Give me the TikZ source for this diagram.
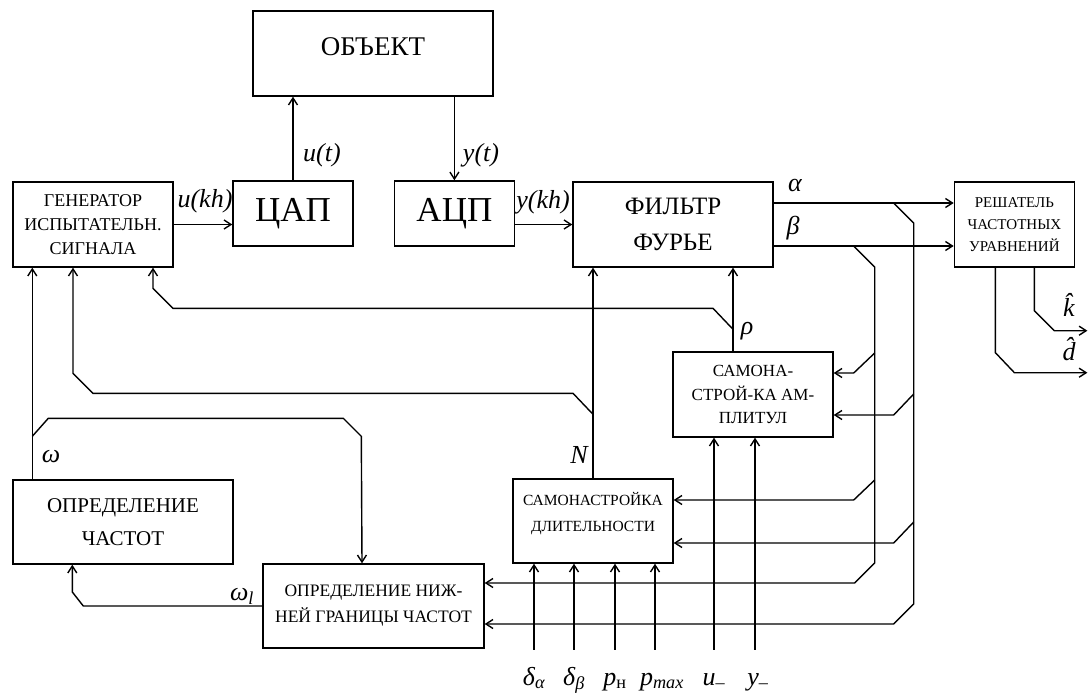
\documentclass[tikz,border=0pt]{standalone}
\usepackage{fontspec}
\setmainfont{Liberation Serif}
\usetikzlibrary{arrows.meta, positioning}

\newcommand{\vi}[1]{\textit{#1}}
\newcommand{\dropstrut}[1]{\rule[-#1]{0pt}{0pt}}

\begin{document}
\begin{tikzpicture}[
    x=1pt, y=-1pt,
    >={Straight Barb[length=7pt, width=9pt]},
    base/.style={draw=black, line width=1.4pt, align=center, inner sep=0pt},
    unit/.style={base, minimum width=160pt, minimum height=85pt},
    plant/.style={base, minimum width=240pt, minimum height=85pt, font={\fontsize{27}{30}\selectfont}},
    converter/.style={base, minimum width=120pt, minimum height=65pt, font={\fontsize{35}{40}\selectfont}},
    wideunit/.style={base, minimum width=220pt, minimum height=84pt},
    sig/.style={inner sep=0pt, font={\fontsize{26}{30}\selectfont\itshape}},
    inlabel/.style={sig, text height=18pt, text depth=6pt},
    wire/.style={line width=1.4pt},
    arrow/.style={->, wire},
    back/.style={<-, wire}
]
\useasboundingbox (0,0) rectangle (1088,693);

% Top Row
\node[plant] (obj) at (373,53.5) {ОБЪЕКТ\dropstrut{14pt}};
\node[converter] (dac) at (293,213.5) {ЦАП};
\node[converter, right=40pt of dac] (adc) {АЦП};
\node[unit, font={\fontsize{18}{24}\selectfont}] (gen) at (93,224.5) {ГЕНЕРАТОР\\ИСПЫТАТЕЛЬН.\\СИГНАЛА};
\node[unit, minimum width=200pt, font={\fontsize{25}{36}\selectfont}] (fft) at (673,224.5) {ФИЛЬТР\\ФУРЬЕ};
\node[unit, minimum width=120pt, right=180pt of fft, font={\fontsize{15}{22}\selectfont}] (solver) {РЕШАТЕЛЬ\\ЧАСТОТНЫХ\\УРАВНЕНИЙ};

% Middle and Bottom
\node[unit, font={\fontsize{17}{23.5}\selectfont}] (amp) at (753,394.5) {САМОНА-\\СТРОЙ-КА АМ-\\ПЛИТУЛ};
\node[unit, minimum height=84pt, font={\fontsize{15.5}{26}\selectfont}] (dur) at (593,521) {САМОНАСТРОЙКА\\ДЛИТЕЛЬНОСТИ\dropstrut{18pt}};
\node[wideunit, font={\fontsize{21}{33}\selectfont}] (freq) at (123,522) {ОПРЕДЕЛЕНИЕ\\ЧАСТОТ};
\node[wideunit, minimum width=221pt, font={\fontsize{17.5}{26}\selectfont}] (low) at (373.5,606) {ОПРЕДЕЛЕНИЕ НИЖ-\\НЕЙ ГРАНИЦЫ ЧАСТОТ};

% Signal labels
\node[sig] (ukh) at (205,201) {\vi{u}(\vi{kh})};
\node[sig] (ut) at (322,155) {\vi{u}(\vi{t})};
\node[sig] (yt) at (481,155) {\vi{y}(\vi{t})};
\node[sig] (ykh) at (543,202) {\vi{y}(\vi{kh})};
\node[sig] (lalpha) at (795,186) {α};
\node[sig] (lbeta) at (793,228) {β};
\node[sig] (lrho) at (747,331) {ρ};
\node[sig] (lN) at (579,455) {N};
\node[sig] (lomega) at (51,457) {ω};
\node[sig] (lomegal) at (242,596) {ω\textsubscript{\vi{l}}};
\node[sig] (lk) at (1069,305) {\^{k}};
\node[sig] (ld) at (1069,349) {\^{d}};

% External inputs
\node[inlabel] (ida) at (534,679) {δ\textsubscript{α}};
\node[inlabel] (idb) at (574,679) {δ\textsubscript{β}};
\node[inlabel] (ipn) at (615,679) {p\textsubscript{\upshape н}};
\node[inlabel] (ipm) at (662,679) {p\textsubscript{max}};
\node[inlabel] (iu) at (714,679) {u\textsubscript{\upshape –}};
\node[inlabel] (iy) at (758,679) {y\textsubscript{\upshape –}};

% Connections
% Generator -> DAC -> Object -> ADC -> Filter
\draw[arrow] (gen.east) -- (gen.east -| dac.west);
\draw[arrow] (dac.north) -- (dac.north |- obj.south);
\draw[arrow] (obj.south -| adc.north) -- (adc.north);
\draw[arrow] (adc.east |- fft.west) -- (fft.west);

% Filter outputs
\coordinate (a0) at ([yshift=21.5pt]fft.east);
\coordinate (b0) at ([yshift=-21.5pt]fft.east);
\draw[arrow] (a0) -- (a0 -| solver.west);
\draw[arrow] (b0) -- (b0 -| solver.west);
\draw[arrow] (a0) ++(120,0) -- ++(20,20) -- ++(0,381) -- ++(-20,20) -- ([yshift=-18pt]low.east);
\draw[arrow] (b0) ++(80,0) -- ++(21,21) -- ++(0,296) -- ++(-20,20) -- ([yshift=23pt]low.east);
\draw[back] ([yshift=21.5pt]amp.east) -- ++(20,0) -- ++(21,-20);
\draw[back] ([yshift=-20.5pt]amp.east) -- ++(60,0) -- ++(20,-21);
\draw[back] ([yshift=21pt]dur.east) -- ++(180,0) -- ++(21,-20);
\draw[back] ([yshift=-22pt]dur.east) -- ++(220,0) -- ++(20,-21);

% Tuning -> Filter and Generator
\draw[arrow] (dur.north) -- (dur.north |- fft.south);
\draw[arrow] (dur.north) ++(0,-64) -- ++(-20,-21) -- ++(-480,0) -- ++(-20,-20) -- ([xshift=-20pt]gen.south);
\draw[arrow] ([xshift=-20pt]amp.north) -- ([xshift=-20pt]amp.north |- fft.south);
\draw[arrow] ([xshift=-20pt]amp.north) ++(0,-22) -- ++(-20,-21) -- ++(-540,0) -- ++(-20,-20) -- ([xshift=60pt]gen.south);

% Frequency loop
\draw[arrow] ([xshift=20pt]freq.north west) -- ([xshift=20pt]gen.south west);
\draw[arrow] ([xshift=20pt]freq.north west) ++(0,-43) -- ++(16,-18) -- ++(295,0) -- ++(18,18) -- ([xshift=-11.5pt]low.north);
\draw[arrow] (low.west) -- ++(-179,0) -- ++(-11,-14) -- ([xshift=60pt]freq.south west);

% Solver outputs
\draw[arrow] ([xshift=-19pt]solver.south) -- ++(0,85) -- ++(19,20) -- ++(73,0);
\draw[arrow] ([xshift=20pt]solver.south) -- ++(0,43) -- ++(20,20) -- ++(33,0);

% Inputs
\draw[arrow] ([yshift=17pt]ida.north) -- (ida.north |- dur.south);
\draw[arrow] ([yshift=17pt]idb.north) -- (idb.north |- dur.south);
\draw[arrow] ([yshift=17pt]ipn.north) -- (ipn.north |- dur.south);
\draw[arrow] ([xshift=-7pt, yshift=17pt]ipm.north) -- ([xshift=-7pt]ipm.north |- dur.south);
\draw[arrow] ([yshift=17pt]iu.north) -- (iu.north |- amp.south);
\draw[arrow] ([xshift=-3pt, yshift=17pt]iy.north) -- ([xshift=-3pt]iy.north |- amp.south);

\end{tikzpicture}
\end{document}
